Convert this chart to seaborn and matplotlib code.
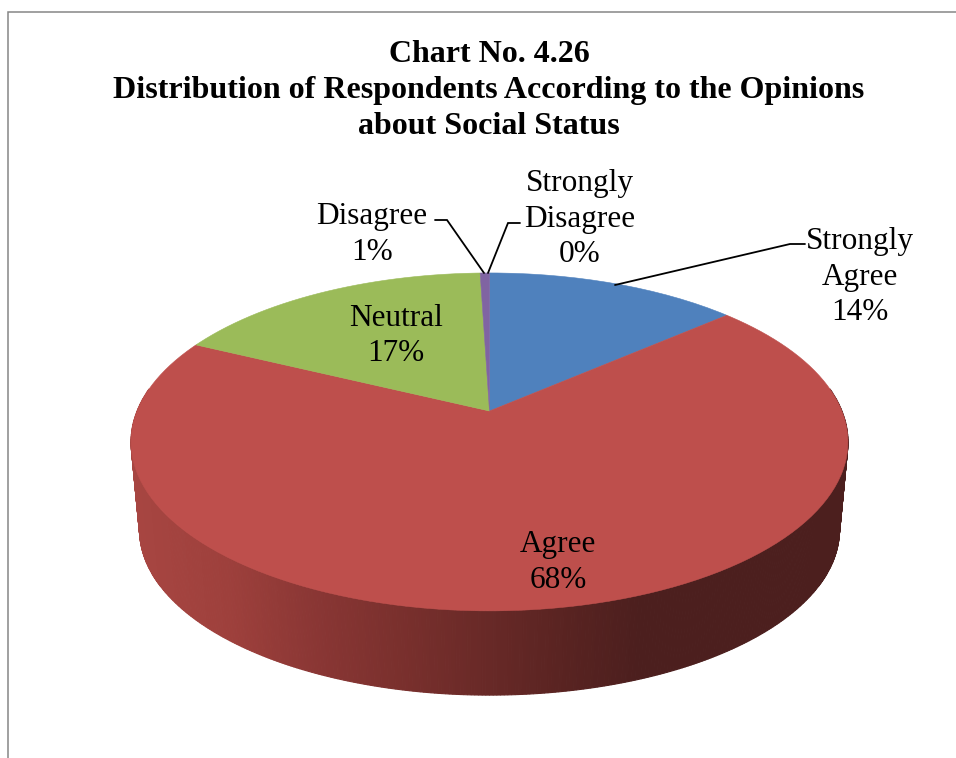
import numpy as np
import matplotlib
matplotlib.use("Agg")
import matplotlib.pyplot as plt
import seaborn as sns
from matplotlib.path import Path
from matplotlib.transforms import Transform, Affine2D

categories = ["Strongly Agree", "Agree", "Neutral", "Disagree", "Strongly Disagree"]
shares = [13.6, 68.6, 17.3, 0.5, 0]
slice_colors = ["#4F81BD", "#BE4F4C", "#9BBB59", "#8064A2", "#4BACC6"]
title_lines = "Chart No. 4.26\nDistribution of Respondents According to the Opinions\nabout Social Status"

sns.set_theme(style="white")
plt.rcParams["font.family"] = ["Liberation Serif", "DejaVu Serif"]

W, H = 956, 758
fig = plt.figure(figsize=(W / 100, H / 100), dpi=100, facecolor="white")
ax = fig.add_axes([0, 0, 1, 1])


class Perspective(Transform):
    """Tilts the unit pie into the picture plane."""
    input_dims = output_dims = 2
    is_separable = False
    has_inverse = False

    def __init__(self, x0, y0, a, b, k):
        super().__init__()
        self.p = (x0, y0, a, b, k)

    def transform_non_affine(self, xy):
        x0, y0, a, b, k = self.p
        xy = np.asarray(xy, float)
        w = 1 / (1 + k * xy[:, 1])
        return np.column_stack([x0 + a * xy[:, 0] * w, y0 - b * xy[:, 1] * w])

    def transform_path_non_affine(self, path):
        polys = path.transformed(Affine2D().scale(500)).to_polygons(closed_only=True)
        if not polys:
            return Path(np.zeros((1, 2)))
        return Path(self.transform_non_affine(polys[0] / 500))


top = Perspective(489.5, 411, 352.4, 163.3, 0.183)
base = Perspective(489.5, 500, 344.0, 159.4, 0.183)

# pie through the library; each wedge is then tilted
wedges, _ = ax.pie(shares, colors=sns.color_palette(slice_colors), startangle=90,
                   counterclock=False, radius=1, wedgeprops=dict(linewidth=0.4))
for w, c, s in zip(wedges, slice_colors, shares):
    w.set_transform(top + ax.transData)
    w.set_edgecolor(c)
    w.set_zorder(3)
    w.set_visible(s > 0)

# side wall of the Agree slice
wall_x = [131, 230, 320, 400, 489, 570, 640, 848]
wall_rgb = np.array([[168, 70, 66], [158, 64, 60], [137, 54, 52], [122, 48, 45],
                     [104, 41, 39], [88, 35, 33], [76, 31, 30], [76, 31, 30]], float)
th = np.radians(np.linspace(172, 368, 393))
unit = np.column_stack([np.cos(th), np.sin(th)])
rim_t = top.transform_non_affine(unit)
rim_b = base.transform_non_affine(unit)
for i in range(len(th) - 1):
    quad = np.vstack([rim_t[i], rim_t[i + 1], rim_b[i + 1], rim_b[i]])
    xm = quad[:, 0].mean()
    col = [np.interp(xm, wall_x, wall_rgb[:, j]) / 255 for j in range(3)]
    ax.fill(quad[:, 0], quad[:, 1], color=col, lw=0.8, zorder=2)

# frame remnants of the scanned page
ax.plot([8.5, 8.5, W], [H, 11.5, 11.5], color="#868686", lw=1.1, zorder=1,
        solid_joinstyle="miter")

# leader lines
leaders = [([615, 790, 805], [285, 244, 244]),
           ([435, 447, 484], [220, 220, 273]),
           ([520, 508, 488], [223, 223, 273])]
for xs, ys in leaders:
    ax.plot(xs, ys, color="black", lw=1.3, zorder=4, solid_joinstyle="miter")

ax.text(489, 90.5, title_lines, ha="center", va="center", fontsize=23,
        fontweight="bold", color="black", linespacing=1.32, zorder=5)

labels = [(860, 277, "Strongly\nAgree\n14%"),
          (372, 234.5, "Disagree\n1%"),
          (580, 219, "Strongly\nDisagree\n0%"),
          (396, 336, "Neutral\n17%"),
          (558, 562.5, "Agree\n68%")]
for x, y, s in labels:
    ax.text(x, y, s, ha="center", va="center", fontsize=22.5, color="black",
            linespacing=1.31, zorder=5)

ax.set_xlim(0, W)
ax.set_ylim(H, 0)
ax.set_aspect("auto")
ax.axis("off")
fig.savefig("out.png", dpi=100, facecolor="white")
